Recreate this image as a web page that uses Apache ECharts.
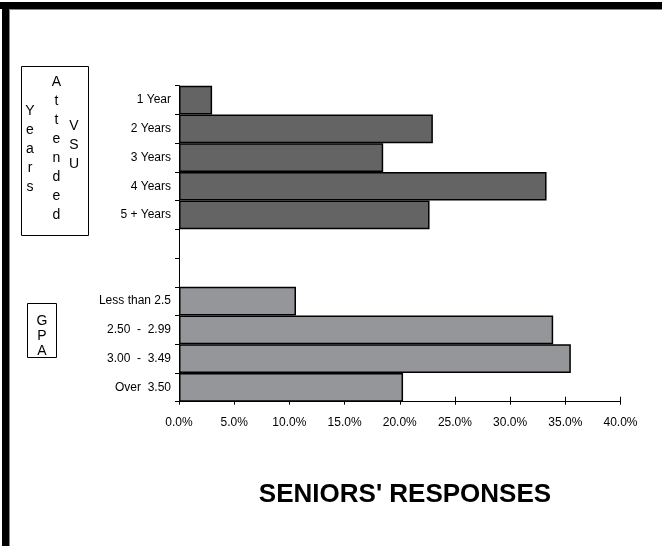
<!DOCTYPE html>
<html>
<head>
<meta charset="utf-8">
<script src="https://cdn.jsdelivr.net/npm/echarts@6/dist/echarts.min.js"></script>
<style>
  html, body { margin: 0; padding: 0; background: #fff; }
  #chart { width: 662px; height: 546px; }
</style>
</head>
<body>
<div id="chart"></div>
<script>
// Categories, top to bottom; two empty slots separate the groups
const categories = ['1 Year', '2 Years', '3 Years', '4 Years', '5 + Years', ' ', '  ',
  'Less than 2.5', '2.50  -  2.99', '3.00  -  3.49', 'Over  3.50'];
// Share of seniors (%) by years attended at VSU
const yearsValues = [3.0, 23.0, 18.5, 33.3, 22.7];
// Share of seniors (%) by GPA band
const gpaValues = [10.6, 33.9, 35.5, 20.3];
// Value axis ticks
const xTicks = [0, 5, 10, 15, 20, 25, 30, 35, 40];

const narrow = "'Liberation Sans Narrow', 'Arial Narrow', 'Liberation Sans', sans-serif";
const sans = "'Liberation Sans', Arial, sans-serif";

// Pad each series to the full category list
const yearsData = categories.map((c, i) => i < yearsValues.length ? yearsValues[i] : '-');
const gpaData = categories.map((c, i) => {
  const j = i - (categories.length - gpaValues.length);
  return j >= 0 ? gpaValues[j] : '-';
});

const grid = { left: 179, right: 41.5, top: 85.7, bottom: 144.3, containLabel: false };

// One letter per line, centred on (x, cy)
function vertical(text, x, cy, step) {
  const letters = text.split('');
  const n = letters.length;
  return letters.map((ch, i) => ({
    type: 'text',
    style: { x: x, y: cy + (i - (n - 1) / 2) * step, text: ch, font: '14px ' + sans,
      fill: '#000', textAlign: 'center', textVerticalAlign: 'middle' }
  }));
}

const chart = echarts.init(document.getElementById('chart'), null, { renderer: 'canvas' });
chart.setOption({
  animation: false,
  backgroundColor: '#fff',
  grid: grid,
  xAxis: [{
    type: 'value', min: xTicks[0], max: xTicks[xTicks.length - 1], interval: 5,
    axisLine: { show: true, lineStyle: { color: '#000', width: 1 } },
    axisTick: { show: true, inside: true, length: 5, lineStyle: { color: '#000' } },
    splitLine: { show: false },
    axisLabel: { margin: 15, fontFamily: narrow, fontSize: 12, color: '#000',
      formatter: v => v.toFixed(1) + '%' }
  }, {
    type: 'value', position: 'bottom', min: xTicks[0], max: xTicks[xTicks.length - 1], interval: 5,
    axisLine: { show: false },
    axisTick: { show: true, length: 3, lineStyle: { color: '#000' } },
    splitLine: { show: false },
    axisLabel: { show: false }
  }],
  yAxis: {
    type: 'category', data: categories, inverse: true,
    axisLine: { show: true, lineStyle: { color: '#000', width: 1 } },
    axisTick: { show: true, length: 4, lineStyle: { color: '#000' } },
    axisLabel: { margin: 8, fontFamily: narrow, fontSize: 12, color: '#000' }
  },
  series: [{
    type: 'bar', data: yearsData, stack: 'all', barCategoryGap: '0%',
    itemStyle: { color: '#646464', borderColor: '#000', borderWidth: 1.5 }
  }, {
    type: 'bar', data: gpaData, stack: 'all', barCategoryGap: '0%',
    itemStyle: { color: '#959699', borderColor: '#000', borderWidth: 1.5 }
  }],
  graphic: [
    // page frame
    { type: 'rect', shape: { x: 0, y: 2, width: 662, height: 7 }, style: { fill: '#000' } },
    { type: 'rect', shape: { x: 2, y: 2, width: 7, height: 544 }, style: { fill: '#000' } },
    { type: 'rect', shape: { x: 9, y: 9, width: 653, height: 1 }, style: { fill: '#888' } },
    { type: 'rect', shape: { x: 9, y: 9, width: 1, height: 537 }, style: { fill: '#888' } },
    // group label boxes
    { type: 'rect', shape: { x: 21.5, y: 66.5, width: 67, height: 169 },
      style: { fill: '#fff', stroke: '#000', lineWidth: 1 } },
    { type: 'rect', shape: { x: 27.5, y: 303.5, width: 29, height: 54 },
      style: { fill: '#fff', stroke: '#000', lineWidth: 1 } },
    ...vertical('Years', 30, 149, 19),
    ...vertical('Attended', 56.5, 149, 19),
    ...vertical('VSU', 74, 145, 19),
    ...vertical('GPA', 42, 336, 15),
    {
      type: 'text',
      style: { x: 405, y: 495, text: "SENIORS' RESPONSES", font: 'bold 26px ' + sans, fill: '#000',
        textAlign: 'center', textVerticalAlign: 'middle' }
    }
  ]
});
</script>
</body>
</html>
